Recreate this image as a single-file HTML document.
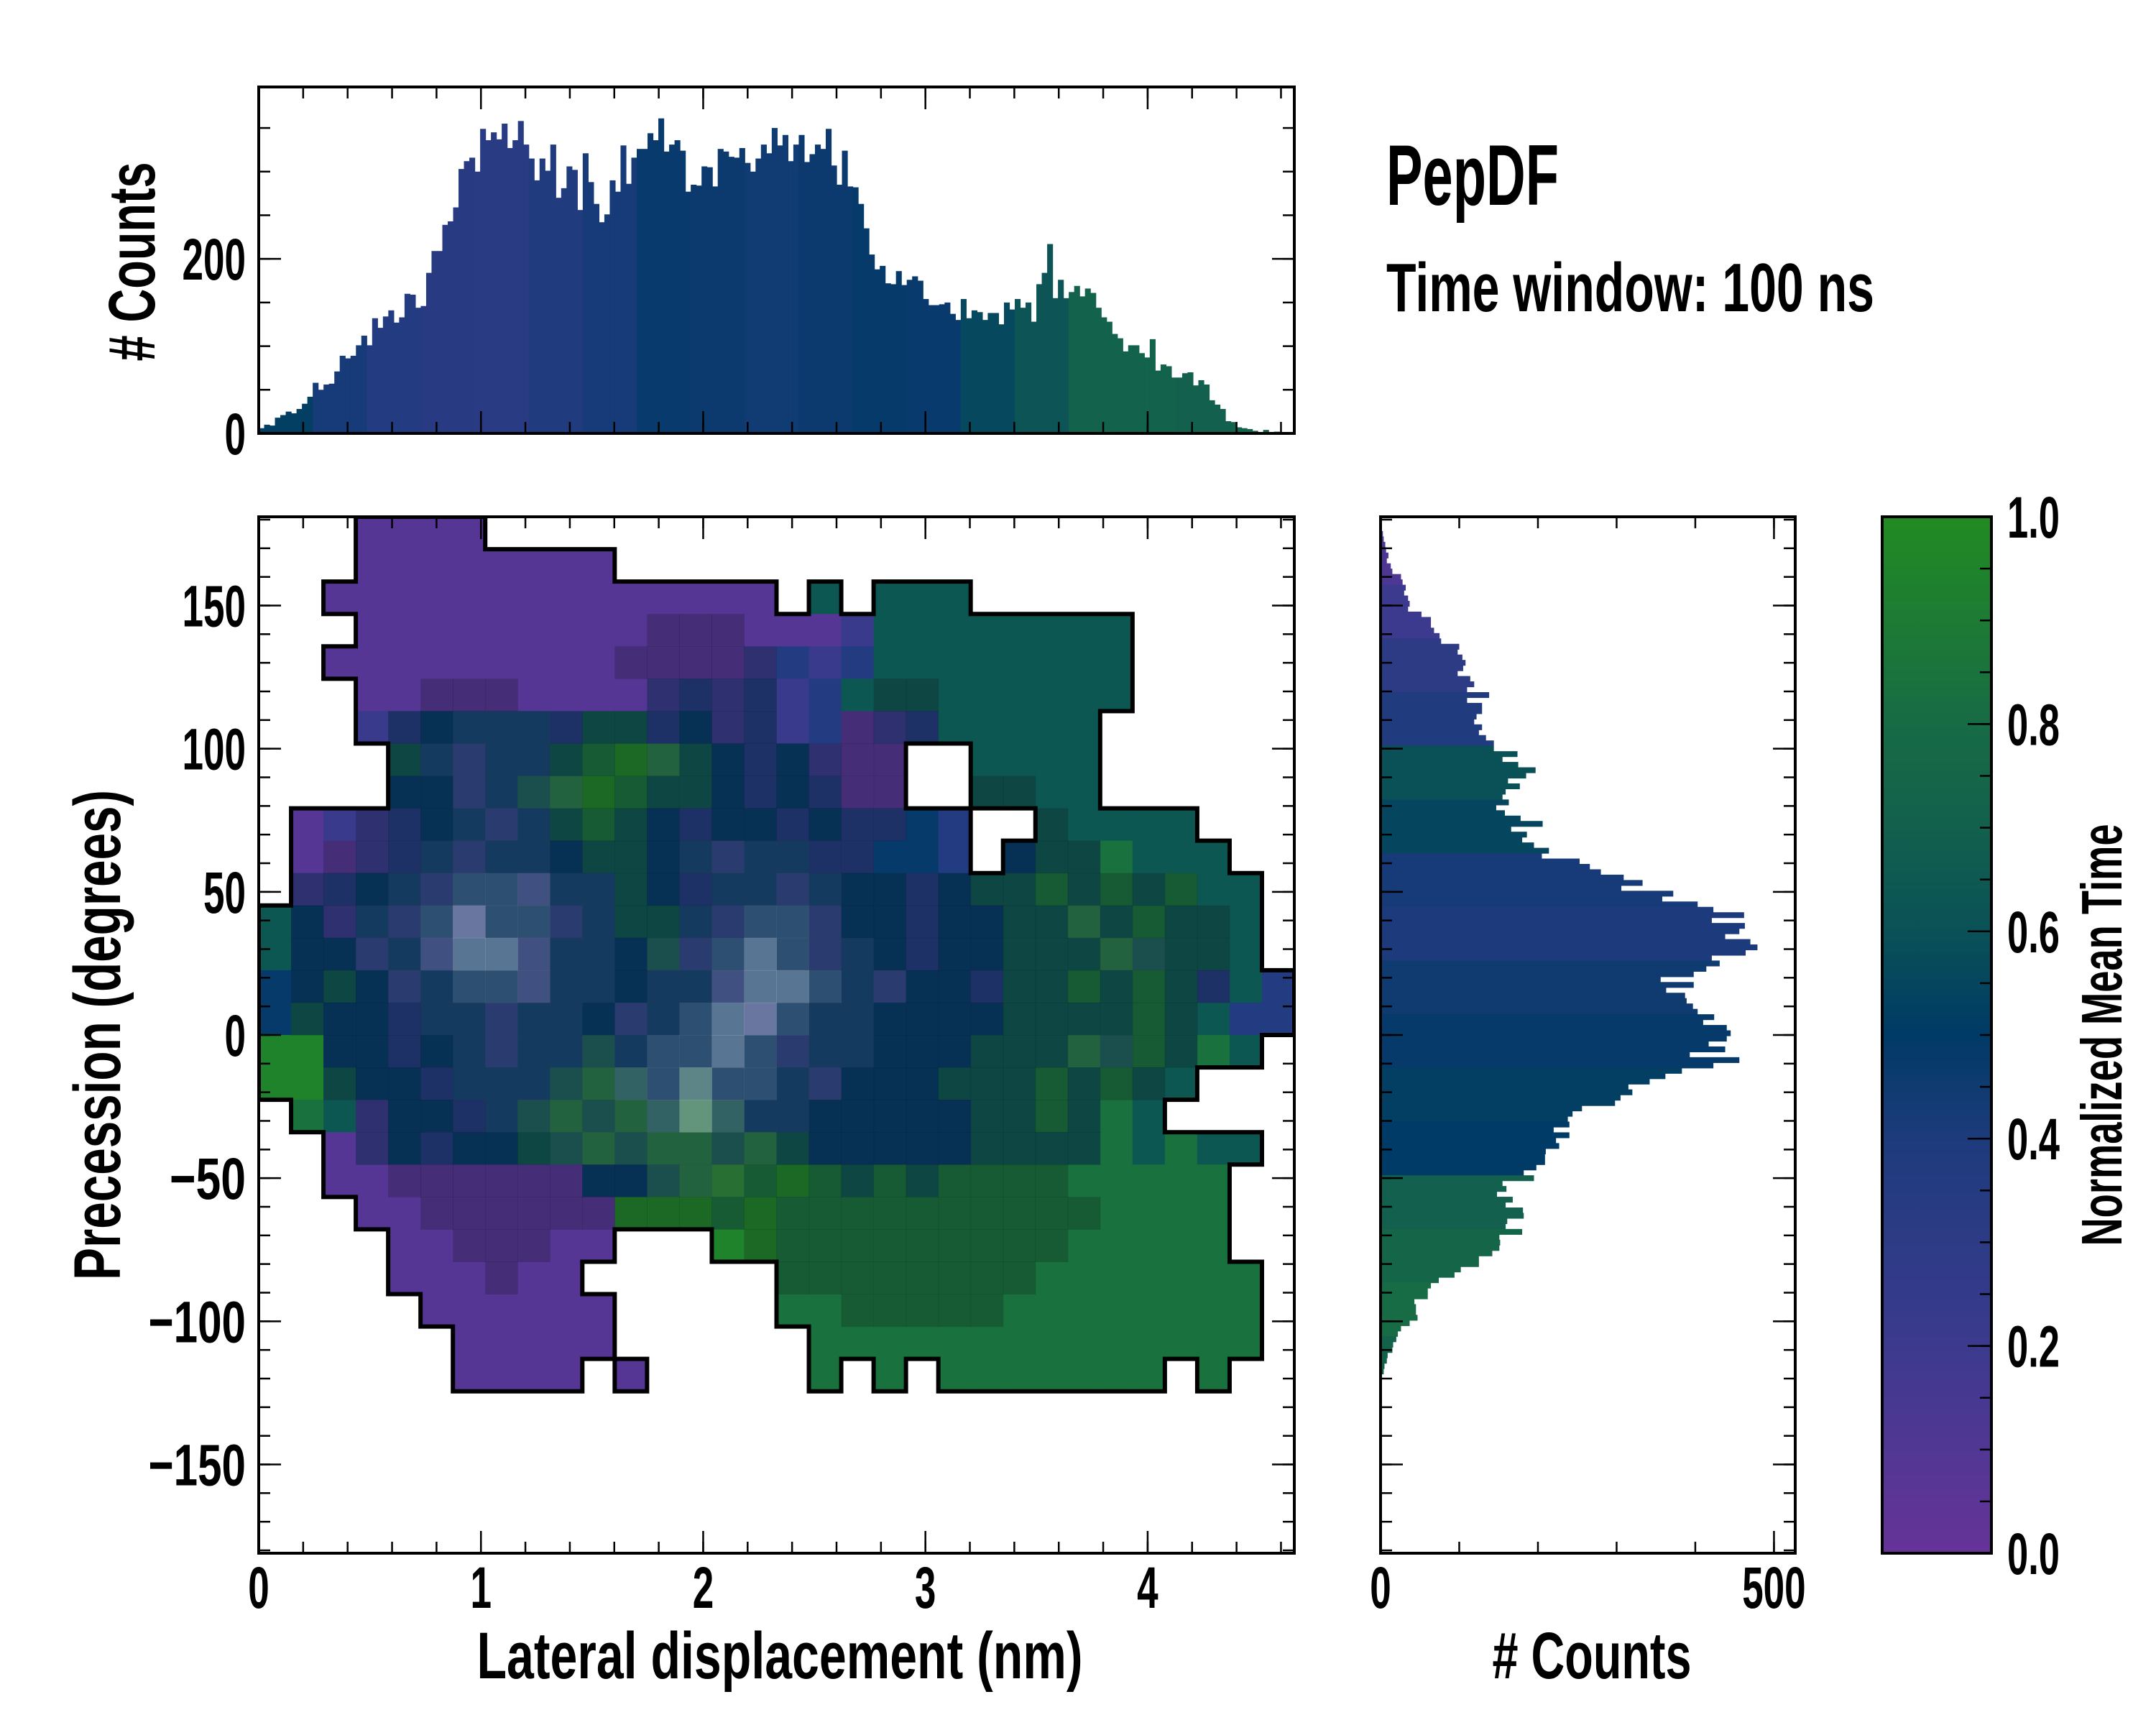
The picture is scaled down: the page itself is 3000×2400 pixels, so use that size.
<!DOCTYPE html>
<html><head><meta charset="utf-8"><style>
html,body{margin:0;padding:0;background:#fff;}
svg{display:block;}
text{font-family:"Liberation Sans",sans-serif;font-weight:bold;fill:#000;}
</style></head><body>
<svg id="fig" width="3000" height="2400" viewBox="0 0 3000 2400" xmlns="http://www.w3.org/2000/svg">
<defs><linearGradient id="cbgrad" x1="0" y1="1" x2="0" y2="0"></linearGradient>
<clipPath id="mainclip"><rect x="360" y="719" width="1441" height="1442"/></clipPath></defs>
<g id="topHist"></g>
<g id="mainPlot"></g>
<g id="rightHist"></g>
<g id="cbar"></g>
<g id="labels"></g>
</svg>
<script>
// ---------- data ----------
const topCounts = [6,10,9,18,21,25,23,28,34,42,58,50,56,57,71,89,86,89,101,112,101,132,121,134,141,127,133,160,159,144,146,184,209,209,239,243,259,303,312,316,300,349,336,345,337,355,327,336,358,331,315,290,315,301,331,270,281,306,302,256,321,288,263,242,251,290,277,330,286,316,326,326,344,336,361,323,331,336,324,277,285,284,306,305,283,326,323,317,316,327,310,300,315,331,321,350,330,342,312,331,342,311,320,331,326,349,307,285,324,283,282,263,235,205,188,192,172,171,186,170,176,180,175,154,147,147,148,150,137,130,154,132,141,139,130,138,138,125,150,142,154,144,150,128,171,184,217,155,176,155,162,169,157,166,161,144,133,128,114,109,94,101,101,92,87,108,72,79,77,64,64,69,70,55,61,56,38,33,28,14,13,7,6,5,3,1,4,1,2];
const topColorVals = [0.52,0.42,0.36,0.33,0.32,0.38,0.42,0.47,0.46,0.44,0.46,0.48,0.47,0.56,0.62,0.72,0.72,0.7,0.72,0.72];
const rightCounts = [3,4,6,7,10,8,13,15,26,28,32,30,35,37,35,52,64,64,68,75,77,100,98,104,108,105,98,114,119,110,138,110,129,129,122,119,129,125,134,144,144,174,155,175,197,185,162,177,159,155,163,147,158,178,206,166,186,180,195,214,205,253,266,280,309,333,306,372,358,403,423,462,421,463,456,438,470,479,464,421,431,414,398,356,398,363,387,389,397,403,424,410,440,445,440,417,438,393,456,423,383,362,342,315,320,305,298,256,244,238,240,220,240,223,227,210,209,209,198,182,195,155,160,148,168,159,181,182,161,159,180,151,152,151,142,125,125,102,94,74,64,60,60,43,45,45,47,37,26,22,20,16,15,9,8,5,4];
const rightColorVals = [0.12,0.2,0.3,0.38,0.6,0.55,0.42,0.4,0.45,0.48,0.52,0.5,0.7,0.75,0.8,0.72];
const xTicks = [0,1,2,3,4];
const xTickLabels = ["0","1","2","3","4"];
const yTicks = [150,100,50,0,-50,-100,-150];
const yTickLabels = ["150","100","50","0","\u221250","\u2212100","\u2212150"];
const topYTicks = [0,200];
const topYTickLabels = ["0","200"];
const rightXTicks = [0,500];
const rightXTickLabels = ["0","500"];
const cbTicks = [0,0.2,0.4,0.6,0.8,1.0];
const cbTickLabels = ["0.0","0.2","0.4","0.6","0.8","1.0"];
const codeValues = {p:0.08,q:0.22,b:0.36,n:0.48,t:0.64,g:0.84,G:0.95};
const heatRows = [
"...pppp.........................",
"...pppppppp.....................",
"..pppppppppppppp.t.ttt..........",
"...pppppppppppppppqtttttttt.....",
"..pppppppppppppqbqbtttttttt.....",
"...pppppppppqbqbqbttttttttt....",
"...qbnnnnbttbnqbqbpqbttttt......",
"....tnbnntgGgtnbnqpp..tttt......",
"....nnbntgGgttnbnbpp..tttt......",
".pqqbnnbntgtnbnnbnbbnb..ttttt...",
".ppqbnbnnnttnnbnnbbnnb.nttgttt..",
".qbnnbnnbnntnbnnbnnnbnttgtgtgtt.",
"tnqnbnbnnbnttnbnnbnnbnnttgtgttt.",
"tnnbnbnnbnnntbnnnbnnbnntttgtttt.",
"nntnbnnnbnnnnnbnnnnbnnbttgtgtbtb",
"ntnnbnnbnnnbnnnbnnnnnnnttttgttbb",
"GGnnbnnbnntnnnnnbnnnnntttgtgtgt.",
"GGtnnbnnntgtntnnnbnnntttgtgtt...",
".gtqnnbntgtgtgtnnnnnnnttgtgt....",
"..pqnbnnttgtggtgtnnnnnttttgtgtt.",
"..ppppppppnntgGgGgtgtggggggggg..",
"...ppppppppGGGgGgggggggggggggg..",
"....ppppppp...GGgggggggggggggg..",
"....pppppp......ggggggggggggggg.",
".....pppppp.....ggggggggggggggg.",
"......ppppp......gggggggggggggg.",
"......pppp.p.....g.g.ggggggg.g..",
"................................",
"................................",
"................................",
"................................",
"................................"];
const densityRows = [
"00000000000000000000000000000000",
"00000000000000000000000000000000",
"00000000000000000000000000000000",
"00000000000011100000000000000000",
"00000000000111110000000000000000",
"00000111000011110001100000000000",
"00001122211111110011100000000000",
"00001222211121111111100000000000",
"00001122221111111111001100000000",
"00011122211111111111000110000000",
"00111222211112222110000111000000",
"01112233322111222211111111111000",
"01122343322112233211111112111100",
"01122344322122343221111111221100",
"01112233322122344322111111111100",
"01111222221223443221111111111000",
"00111122222233432221111112211000",
"00111122222334332211111111110000",
"00011112222234322111111111000000",
"00011111122222221111111111000000",
"00001111111122211111111110000000",
"00000111111111111111111111000000",
"00000011100000011111111110000000",
"00000001000000001111111100000000",
"00000000000000000011111000000000",
"00000000000000000000000000000000"];

// ---------- scales ----------
const MX0=360, MX1=1801, MY0=719, MY1=2161;
const XMAX=4.66, YMAX=181;
function xS(v){return MX0+v/XMAX*(MX1-MX0);}
function yS(d){return MY0+(YMAX-d)/(2*YMAX)*(MY1-MY0);}
const TY0=121, TY1=603, TMAX=397;
function tyS(c){return TY1-c/TMAX*(TY1-TY0);}
const RX0=1921, RX1=2498, RMAX=527;
function rxS(c){return RX0+c/RMAX*(RX1-RX0);}
const CBX0=2619, CBX1=2771;
function cbS(v){return MY1-v*(MY1-MY0);}

const stops=[[0,[102,51,153]],[0.2,[60,58,142]],[0.4,[29,59,124]],[0.5,[0,58,102]],[0.6,[10,81,87]],[0.7,[18,96,77]],[0.8,[23,107,69]],[1.0,[34,139,34]]];
function cmap(v){v=Math.max(0,Math.min(1,v));for(let i=1;i<stops.length;i++){if(v<=stops[i][0]){const a=stops[i-1],b=stops[i];const f=(v-a[0])/(b[0]-a[0]);const c=a[1].map((x,k)=>Math.round(x+(b[1][k]-x)*f));return `rgb(${c[0]},${c[1]},${c[2]})`;}}return 'rgb(34,139,34)';}

const NS="http://www.w3.org/2000/svg";
function mk(tag,attrs,parent){const e=document.createElementNS(NS,tag);for(const k in attrs)e.setAttribute(k,attrs[k]);parent.appendChild(e);return e;}
function lbl(parent,str,x,y,size,len,anchor,rot){const t=mk('text',{x:x,y:y,'font-size':size,'text-anchor':anchor||'middle',textLength:len,lengthAdjust:'spacingAndGlyphs'},parent);if(rot)t.setAttribute('transform',`rotate(-90 ${x} ${y})`);t.textContent=str;return t;}
function tw(s){let w=0;for(const ch of s){if(ch==='\u2212')w+=47;else if(ch==='.')w+=14;else w+=29.5;}return w;}

// ---------- top histogram ----------
const gT=document.getElementById('topHist');
const topBinW=0.0243;
topCounts.forEach((c,i)=>{
  const x0=xS(i*topBinW),x1=xS((i+1)*topBinW);
  const r=mk('rect',{x:x0,y:tyS(c),width:x1-x0+0.6,height:TY1-tyS(c),fill:cmap(topColorVals[Math.min(topColorVals.length-1,Math.floor(i/10))])},gT);
  
  
});
function ticksX(g,xf,vals,yTop,yBot,len){vals.forEach(v=>{const x=xf(v);mk('line',{x1:x,y1:yBot,x2:x,y2:yBot-len,stroke:'#000','stroke-width':2.5},g);mk('line',{x1:x,y1:yTop,x2:x,y2:yTop+len,stroke:'#000','stroke-width':2.5},g);});}
function ticksY(g,yf,vals,xL,xR,len){vals.forEach(v=>{const y=yf(v);mk('line',{x1:xL,y1:y,x2:xL+len,y2:y,stroke:'#000','stroke-width':2.5},g);mk('line',{x1:xR,y1:y,x2:xR-len,y2:y,stroke:'#000','stroke-width':2.5},g);});}
function range(a,b,s){const r=[];for(let v=a;v<=b+1e-9;v+=s)r.push(+v.toFixed(4));return r;}
ticksX(gT,xS,range(0,4.6,0.2),TY0,TY1,16);
ticksX(gT,xS,xTicks,TY0,TY1,31);
ticksY(gT,tyS,range(0,395,50),MX0,MX1,16);
ticksY(gT,tyS,topYTicks,MX0,MX1,31);
mk('rect',{x:MX0,y:TY0,width:MX1-MX0,height:TY1-TY0,fill:'none',stroke:'#000','stroke-width':4},gT);
topYTicks.forEach((v,i)=>{const t=lbl(gT,topYTickLabels[i],342,tyS(v)+29,82,tw(topYTickLabels[i]),'end');});

// ---------- main heatmap ----------
const gM=document.getElementById('mainPlot');
const gCells=mk('g',{'clip-path':'url(#mainclip)'},gM);
const NC=32, NR=32, cellDX=XMAX/NC, cellDY=2*YMAX/NR;
function cellAt(r,c){if(r<0||r>=NR||c<0||c>=NC)return '.';const row=(heatRows[r]||'').slice(0,NC);const ch=row[c];return (ch&&codeValues[ch]!==undefined)?ch:'.';}
for(let r=0;r<NR;r++)for(let c=0;c<NC;c++){
  const ch=cellAt(r,c); if(ch==='.')continue;
  const x0=xS(c*cellDX),x1=xS((c+1)*cellDX),y0=yS(YMAX-r*cellDY),y1=yS(YMAX-(r+1)*cellDY);
  const e=mk('rect',{x:x0,y:y0,width:x1-x0+0.5,height:y1-y0+0.5,fill:cmap(codeValues[ch])},gCells);
  
  
}
const densCol=['','rgba(15,15,15,0.22)','rgba(60,60,70,0.28)','rgba(120,120,130,0.35)','rgba(190,190,200,0.45)'];
for(let r=0;r<densityRows.length;r++)for(let c=0;c<NC;c++){
  const d=+((densityRows[r]||'')[c]||0); if(!d||cellAt(r,c)==='.')continue;
  const x0=xS(c*cellDX),x1=xS((c+1)*cellDX),y0=yS(YMAX-r*cellDY),y1=yS(YMAX-(r+1)*cellDY);
  const e=mk('rect',{x:x0,y:y0,width:x1-x0+0.5,height:y1-y0+0.5,fill:densCol[d]},gCells);
  
  
}
let od='';
for(let r=0;r<NR;r++)for(let c=0;c<NC;c++){
  if(cellAt(r,c)==='.')continue;
  const x0=xS(c*cellDX),x1=xS((c+1)*cellDX),y0=yS(YMAX-r*cellDY),y1=yS(YMAX-(r+1)*cellDY);
  if(cellAt(r-1,c)==='.')od+=`M${x0} ${y0}H${x1}`;
  if(cellAt(r+1,c)==='.')od+=`M${x0} ${y1}H${x1}`;
  if(cellAt(r,c-1)==='.')od+=`M${x0} ${y0}V${y1}`;
  if(cellAt(r,c+1)==='.')od+=`M${x1} ${y0}V${y1}`;
}
const outline=mk('path',{d:od,fill:'none',stroke:'#000','stroke-width':6,'stroke-linecap':'square'},gCells);


ticksX(gM,xS,range(0,4.6,0.2),MY0,MY1,16);
ticksX(gM,xS,xTicks,MY0,MY1,31);
ticksY(gM,yS,range(-180,180,10),MX0,MX1,16);
ticksY(gM,yS,yTicks,MX0,MX1,31);
mk('rect',{x:MX0,y:MY0,width:MX1-MX0,height:MY1-MY0,fill:'none',stroke:'#000','stroke-width':4},gM);
xTicks.forEach((v,i)=>{const t=lbl(gM,xTickLabels[i],xS(v),2237,82,tw(xTickLabels[i]),'middle');});
yTicks.forEach((v,i)=>{const t=lbl(gM,yTickLabels[i],342,yS(v)+29,82,tw(yTickLabels[i]),'end');});

// ---------- right histogram ----------
const gR=document.getElementById('rightHist');
const rBinStart=176, rBinW=1.875;
rightCounts.forEach((c,i)=>{
  const y0=yS(rBinStart-i*rBinW),y1=yS(rBinStart-(i+1)*rBinW);
  const e=mk('rect',{x:RX0,y:y0,width:rxS(c)-RX0,height:y1-y0+0.6,fill:cmap(rightColorVals[Math.min(rightColorVals.length-1,Math.floor(i/10))])},gR);
  
  
});
ticksX(gR,rxS,range(0,500,100),MY0,MY1,16);
ticksX(gR,rxS,rightXTicks,MY0,MY1,31);
ticksY(gR,yS,range(-180,180,10),RX0,RX1,16);
ticksY(gR,yS,yTicks,RX0,RX1,31);
mk('rect',{x:RX0,y:MY0,width:RX1-RX0,height:MY1-MY0,fill:'none',stroke:'#000','stroke-width':4},gR);
rightXTicks.forEach((v,i)=>{const t=lbl(gR,rightXTickLabels[i],rxS(v),2237,82,tw(rightXTickLabels[i]),'middle');});

// ---------- colorbar ----------
const grad=document.getElementById('cbgrad');
for(let i=0;i<=20;i++){mk('stop',{offset:(i/20),'stop-color':cmap(i/20)},grad);}
const gC=document.getElementById('cbar');
const cbr=mk('rect',{x:CBX0,y:MY0,width:CBX1-CBX0,height:MY1-MY0,fill:'url(#cbgrad)',stroke:'#000','stroke-width':4},gC);


range(0,1,0.05).forEach(v=>{mk('line',{x1:CBX1,y1:cbS(v),x2:CBX1-16,y2:cbS(v),stroke:'#000','stroke-width':2.5},gC);});
cbTicks.forEach(v=>{mk('line',{x1:CBX1,y1:cbS(v),x2:CBX1-33,y2:cbS(v),stroke:'#000','stroke-width':2.5},gC);});
cbTicks.forEach((v,i)=>{const t=lbl(gC,cbTickLabels[i],2793,cbS(v)+29,82,tw(cbTickLabels[i]),'start');});
</script>
<script>
const gL=document.getElementById('labels');
function L(str,x,y,size,len,anchor,rot,name){const t=document.createElementNS("http://www.w3.org/2000/svg",'text');t.setAttribute('x',x);t.setAttribute('y',y);t.setAttribute('font-size',size);t.setAttribute('text-anchor',anchor);t.setAttribute('textLength',len);t.setAttribute('lengthAdjust','spacingAndGlyphs');if(rot)t.setAttribute('transform',`rotate(-90 ${x} ${y})`);t.textContent=str;


gL.appendChild(t);}
L('PepDF',1929,285,120,240,'start',false,'title');
L('Time window: 100 ns',1929,433,96,679,'start',false,'subtitle');
L('Lateral displacement (nm)',1085,2335,92,843,'middle',false,'x-axis-title');
L('# Counts',2215,2335,92,277,'middle',false,'right-hist-x-title');
L('Precession (degrees)',167,1440,92,682,'middle',true,'y-axis-title');
L('# Counts',215,364,92,277,'middle',true,'top-hist-y-title');
L('Normalized Mean Time',2952,1440,80,587,'middle',true,'colorbar-title');
</script>
</body></html>
